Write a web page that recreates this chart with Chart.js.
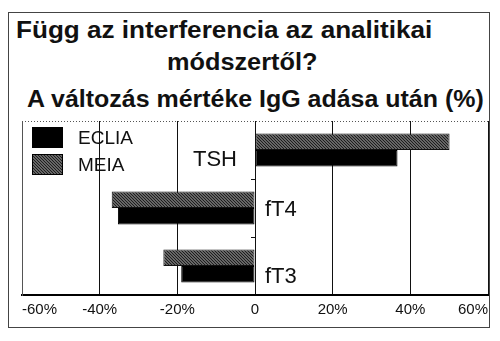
<!DOCTYPE html>
<html>
<head>
<meta charset="utf-8">
<script src="https://cdn.jsdelivr.net/npm/chart.js@4.4.1/dist/chart.umd.min.js"></script>
<style>
  body { margin: 0; background: #fff; }
  #wrap { position: relative; width: 500px; height: 341px; overflow: hidden; }
  #frame { position: absolute; left: 8px; top: 12px; width: 480px; height: 314px; border: 1.5px solid #444; }
  .t { position: absolute; font: bold 23px "Liberation Sans", Arial, sans-serif; line-height: 23px;
       color: #111; white-space: nowrap; transform: scaleX(1.1); transform-origin: 0 0; }
  canvas { position: absolute; left: 0; top: 0; }
</style>
</head>
<body>
<div id="wrap">
  <div id="frame"></div>
  <div class="t" style="left:16px;top:19px;transform:scaleX(1.135)">Függ az interferencia az analitikai</div>
  <div class="t" style="left:167px;top:51px">módszertől?</div>
  <div class="t" style="left:27px;top:88px;transform:scaleX(1.085)">A változás mértéke IgG adása után (%)</div>
  <canvas id="chart" width="500" height="341"></canvas>
</div>
<script>
  const categories = ['TSH', 'fT4', 'fT3'];
  const ecliaValues = [36.7, -35.3, -19.0];
  const meiaValues = [50.1, -36.9, -23.6];
  const tickValues = [-60, -40, -20, 0, 20, 40, 60];
  const tickLabels = ['-60%', '-40%', '-20%', '0', '20%', '40%', '60%'];

  const ctx = document.getElementById('chart').getContext('2d');

  // diagonal hatch for MEIA
  function hatch() {
    const c = document.createElement('canvas');
    c.width = 3; c.height = 3;
    const g = c.getContext('2d');
    g.fillStyle = '#8a8a8a';
    g.fillRect(0, 0, 3, 3);
    g.strokeStyle = '#1a1a1a';
    g.lineWidth = 1.2;
    g.beginPath();
    g.moveTo(0, 0); g.lineTo(3, 3);
    g.moveTo(-1, 2); g.lineTo(1, 4);
    g.moveTo(2, -1); g.lineTo(4, 1);
    g.stroke();
    return ctx.createPattern(c, 'repeat');
  }

  // legend drawn inside the plot, ECLIA first
  const insideLegend = {
    id: 'insideLegend',
    afterDatasetsDraw(chart) {
      const { ctx, chartArea } = chart;
      ctx.save();
      ctx.font = '19px "Liberation Sans", Arial, sans-serif';
      ctx.textBaseline = 'middle';
      [1, 0].forEach((di, k) => {
        const ds = chart.data.datasets[di];
        const x = chartArea.left + 10, y = chartArea.top + 6 + k * 27;
        ctx.fillStyle = ds.backgroundColor;
        ctx.fillRect(x, y, 31, 21);
        ctx.strokeStyle = '#000';
        ctx.lineWidth = 1;
        ctx.strokeRect(x + 0.5, y + 0.5, 30, 20);
        ctx.fillStyle = '#111';
        ctx.fillText(ds.label, x + 46, y + 12);
      });
      ctx.restore();
    }
  };

  // category names next to the zero line
  const catLabels = {
    id: 'catLabels',
    afterDatasetsDraw(chart, args, opts) {
      const { ctx, scales: { x, y } } = chart;
      const zero = x.getPixelForValue(0);
      ctx.save();
      ctx.font = '22px "Liberation Sans", Arial, sans-serif';
      ctx.fillStyle = '#111';
      categories.forEach((c, i) => {
        const pos = meiaValues[i] >= 0;
        ctx.textAlign = pos ? 'right' : 'left';
        ctx.fillText(c, zero + (pos ? -18 : 10), y.getPixelForValue(i) + opts.dy[i]);
      });
      ctx.restore();
    }
  };

  // dotted top edge and small ticks on the zero line
  const axisExtras = {
    id: 'axisExtras',
    beforeDatasetsDraw(chart) {
      const { ctx, chartArea, scales: { x, y } } = chart;
      ctx.save();
      ctx.strokeStyle = '#555';
      ctx.lineWidth = 1;
      ctx.setLineDash([1, 2]);
      ctx.beginPath();
      ctx.moveTo(chartArea.left, chartArea.top + 0.5);
      ctx.lineTo(chartArea.right, chartArea.top + 0.5);
      ctx.stroke();
      ctx.setLineDash([]);
      ctx.strokeStyle = '#111';
      const zero = x.getPixelForValue(0);
      for (let i = 1; i < categories.length; i++) {
        const yy = Math.round((y.getPixelForValue(i - 1) + y.getPixelForValue(i)) / 2) + 0.5;
        ctx.beginPath();
        ctx.moveTo(zero - 4, yy);
        ctx.lineTo(zero, yy);
        ctx.stroke();
      }
      ctx.restore();
    }
  };

  new Chart(ctx, {
    type: 'bar',
    data: {
      labels: categories,
      datasets: [
        {
          label: 'MEIA',
          data: meiaValues,
          backgroundColor: hatch(),
          borderColor: '#111',
          borderWidth: 1,
          borderSkipped: false
        },
        {
          label: 'ECLIA',
          data: ecliaValues,
          backgroundColor: '#000',
          borderColor: '#000',
          borderWidth: 1,
          borderSkipped: false
        }
      ]
    },
    options: {
      indexAxis: 'y',
      responsive: false,
      animation: false,
      layout: { padding: { left: 22, right: 12, top: 121, bottom: 16 } },
      datasets: { bar: { categoryPercentage: 0.57, barPercentage: 1 } },
      plugins: {
        legend: { display: false },
        tooltip: { enabled: false },
        catLabels: { dy: [16, 8, 17] }
      },
      scales: {
        x: {
          min: -60,
          max: 60,
          afterBuildTicks: (s) => { s.ticks = tickValues.map(v => ({ value: v })); },
          ticks: {
            align: 'inner',
            padding: 6,
            color: '#111',
            font: { family: '"Liberation Sans", Arial, sans-serif', size: 15 },
            callback: (v) => tickLabels[tickValues.indexOf(v)]
          },
          grid: {
            drawTicks: false,
            lineWidth: 1,
            color: (c) => (c.tick && c.tick.value === -60) ? 'rgba(0,0,0,0)' : '#111'
          },
          border: { display: true, color: '#000', width: 2 }
        },
        y: {
          ticks: { display: false },
          grid: { display: false, drawTicks: false },
          border: { display: true, color: '#555', width: 1, dash: [1, 2] }
        }
      }
    },
    plugins: [axisExtras, insideLegend, catLabels]
  });
</script>
</body>
</html>
